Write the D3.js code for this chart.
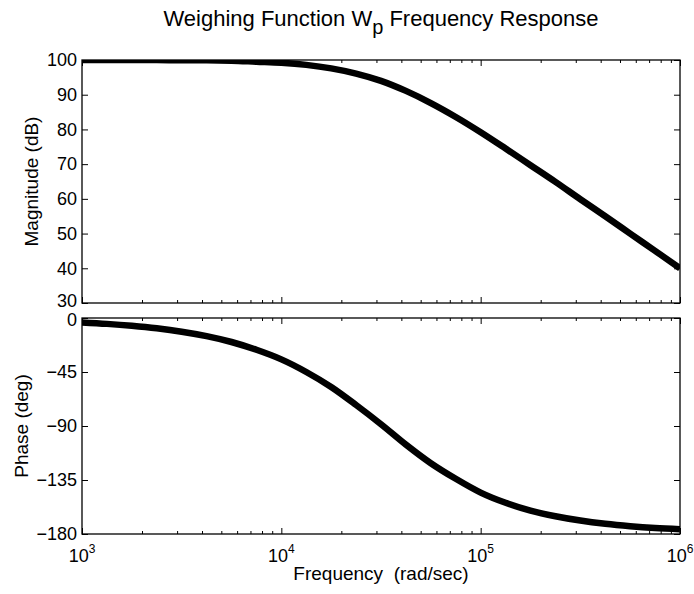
<!DOCTYPE html>
<html>
<head>
<meta charset="utf-8">
<script src="https://cdn.jsdelivr.net/npm/d3@7"></script>
<style>
  body { margin: 0; background: #fff; }
  svg text { font-family: "Liberation Sans", Arial, Helvetica, sans-serif; fill: #000; }
</style>
</head>
<body>
<div id="chart"></div>
<script>
// values (rad/sec, dB, deg)
const freq = [1000, 1334, 1778, 2371, 3162, 4217, 5623, 7499,
              10000, 13335, 17783, 23714, 31623, 42170, 56234, 74989,
              100000, 133352, 177828, 237137, 316228, 421697, 562341, 749894, 1000000];
const magnitude = [100.0, 100.0, 100.0, 100.0, 99.9, 99.9, 99.8, 99.5,
                   99.2, 98.6, 97.6, 96.1, 94.0, 91.1, 87.6, 83.6,
                   79.2, 74.5, 69.7, 64.9, 59.9, 55.0, 50.0, 45.0, 40.0];
const phase = [-3.7, -4.9, -6.5, -8.6, -11.4, -15.1, -20.0, -26.5,
               -34.5, -45.0, -57.5, -72.5, -88.5, -105.5, -121.0, -134.0,
               -145.5, -154.0, -160.5, -165.2, -168.8, -171.5, -173.5, -175.0, -176.0];

const freqTicks = [1e3, 1e4, 1e5, 1e6];
const freqTickExp = ["3", "4", "5", "6"];
const magTicks = [30, 40, 50, 60, 70, 80, 90, 100];
const phaseTicks = [0, -45, -90, -135, -180];
const phaseTickLabels = ["0", "\u221245", "\u221290", "\u2212135", "\u2212180"];

const width = 694, height = 594;
const plotLeft = 82, plotRight = 680;
const magTop = 60, magBottom = 303;
const phTop = 318, phBottom = 534;

const svg = d3.select("#chart").append("svg")
    .attr("width", width)
    .attr("height", height);

svg.append("rect").attr("width", width).attr("height", height).attr("fill", "#fff");

const x = d3.scaleLog().domain([1e3, 1e6]).range([plotLeft, plotRight]);
const yMag = d3.scaleLinear().domain([30, 100]).range([magBottom, magTop]);
const yPh = d3.scaleLinear().domain([-180, 0]).range([phBottom, phTop]);

// minor log ticks 2..9 in each decade
const minorTicks = [];
[1e3, 1e4, 1e5].forEach(d => { for (let k = 2; k <= 9; k++) minorTicks.push(d * k); });

const tickFont = "18px";

function drawPanel(y, top, bottom, yTicks, yLabels, values, id) {
    const g = svg.append("g");

    g.append("clipPath").attr("id", id)
        .append("rect")
        .attr("x", plotLeft).attr("y", top)
        .attr("width", plotRight - plotLeft).attr("height", bottom - top);

    // x ticks, bottom and top, pointing inward
    const xMajB = d3.axisBottom(x).tickValues(freqTicks).tickSizeInner(-6).tickSizeOuter(0).tickFormat("");
    const xMinB = d3.axisBottom(x).tickValues(minorTicks).tickSizeInner(-3).tickSizeOuter(0).tickFormat("");
    const xMajT = d3.axisTop(x).tickValues(freqTicks).tickSizeInner(-6).tickSizeOuter(0).tickFormat("");
    const xMinT = d3.axisTop(x).tickValues(minorTicks).tickSizeInner(-3).tickSizeOuter(0).tickFormat("");
    [[xMajB, bottom], [xMinB, bottom], [xMajT, top], [xMinT, top]].forEach(([ax, yy]) => {
        const a = g.append("g").attr("transform", `translate(0,${yy})`).call(ax);
        a.select(".domain").remove();
        a.selectAll("line").attr("stroke", "#000").attr("stroke-width", 1);
    });

    // y ticks left with labels, right without
    const yl = g.append("g").attr("transform", `translate(${plotLeft},0)`)
        .call(d3.axisLeft(y).tickValues(yTicks).tickSizeInner(-6).tickSizeOuter(0)
            .tickPadding(5).tickFormat((d, i) => yLabels[i]));
    yl.select(".domain").remove();
    yl.selectAll("line").attr("stroke", "#000").attr("stroke-width", 1);
    yl.selectAll("text").style("font-size", tickFont).attr("fill", "#000")
        .style("font-family", "'Liberation Sans', Arial, sans-serif");

    const yr = g.append("g").attr("transform", `translate(${plotRight},0)`)
        .call(d3.axisRight(y).tickValues(yTicks).tickSizeInner(-6).tickSizeOuter(0).tickFormat(""));
    yr.select(".domain").remove();
    yr.selectAll("line").attr("stroke", "#000").attr("stroke-width", 1);

    // curve
    const line = d3.line()
        .x((d, i) => x(freq[i]))
        .y(d => y(d))
        .curve(d3.curveMonotoneX);

    g.append("path")
        .datum(values)
        .attr("clip-path", `url(#${id})`)
        .attr("fill", "none")
        .attr("stroke", "#000")
        .attr("stroke-width", 6.5)
        .attr("stroke-linejoin", "round")
        .attr("d", line);

    // box
    g.append("rect")
        .attr("x", plotLeft).attr("y", top)
        .attr("width", plotRight - plotLeft).attr("height", bottom - top)
        .attr("fill", "none").attr("stroke", "#000").attr("stroke-width", 1.3);
    return yl;
}

const magAxis = drawPanel(yMag, magTop, magBottom, magTicks, magTicks.map(String), magnitude, "clipMag");
const phAxis = drawPanel(yPh, phTop, phBottom, phaseTicks, phaseTickLabels, phase, "clipPh");

// the "30" and "0" labels sit very close, as in the original; nudge them apart a little
magAxis.selectAll("text").filter(d => d === 30).attr("dy", "0.2em");
phAxis.selectAll("text").filter(d => d === 0).attr("dy", "0.42em");

// x tick labels 10^n
freqTicks.forEach((f, i) => {
    const t = svg.append("text")
        .attr("x", x(f)).attr("y", phBottom + 28)
        .attr("text-anchor", "middle")
        .style("font-size", tickFont);
    t.append("tspan").text("10");
    t.append("tspan").attr("dy", -9).style("font-size", "12px").text(freqTickExp[i]);
});

// axis labels
svg.append("text")
    .attr("transform", `translate(38,${(magTop + magBottom) / 2}) rotate(-90)`)
    .attr("text-anchor", "middle")
    .style("font-size", "19px")
    .text("Magnitude (dB)");

svg.append("text")
    .attr("transform", `translate(28,${(phTop + phBottom) / 2}) rotate(-90)`)
    .attr("text-anchor", "middle")
    .style("font-size", "19px")
    .text("Phase (deg)");

svg.append("text")
    .attr("x", (plotLeft + plotRight) / 2).attr("y", 580)
    .attr("text-anchor", "middle")
    .style("font-size", "19px")
    .style("white-space", "pre")
    .text("Frequency  (rad/sec)");

// title with subscript p
const title = svg.append("text")
    .attr("x", (plotLeft + plotRight) / 2).attr("y", 26)
    .attr("text-anchor", "middle")
    .style("font-size", "22px");
title.append("tspan").text("Weighing Function W");
title.append("tspan").attr("dy", 8).style("font-size", "20px").text("p");
title.append("tspan").attr("dy", -8).style("white-space", "pre").text(" Frequency Response");
</script>
</body>
</html>
